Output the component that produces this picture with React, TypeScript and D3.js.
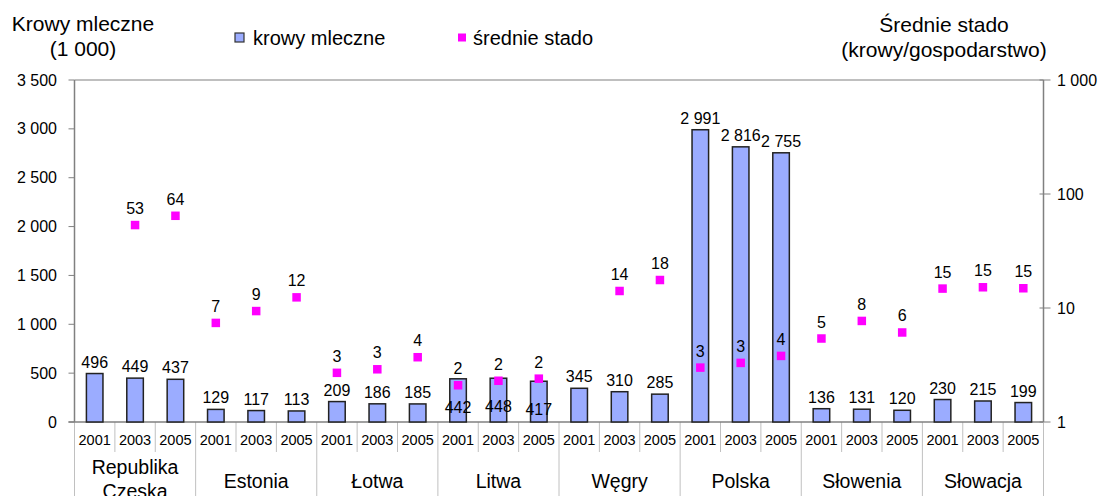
import React from "react";
import * as d3 from "d3";

const countries = ["Republika|Czeska", "Estonia", "Łotwa", "Litwa", "Węgry", "Polska", "Słowenia", "Słowacja"];
const years = ["2001", "2003", "2005"];
const cows = [496, 449, 437, 129, 117, 113, 209, 186, 185, 442, 448, 417, 345, 310, 285, 2991, 2816, 2755, 136, 131, 120, 230, 215, 199];
const herd: (number | null)[] = [null, 53.4, 64.4, 7.4, 9.4, 12.4, 2.7, 2.9, 3.7, 2.1, 2.3, 2.4, null, 14.1, 17.6, 3.0, 3.3, 3.8, 5.4, 7.7, 6.1, 14.8, 15.2, 14.9];
const leftTicks = [0, 500, 1000, 1500, 2000, 2500, 3000, 3500];
const rightTicks = [1, 10, 100, 1000];
const insideLabelCountries = ["Litwa"];

const W = 1101;
const H = 496;
const L = 74.5;
const R = 1043.5;
const T = 80;
const B = 422;
const FONT = "'Liberation Sans', Arial, Helvetica, sans-serif";
const BAR_FILL = "#9bacff";
const MAG = "#ff00ff";
const AXIS = "#808080";
const SEP = "#c0c0c0";

const fmt = d3.formatLocale({ decimal: ",", thousands: " ", grouping: [3], currency: ["", ""] }).format(",d");

export default function App() {
  const cats = d3.range(cows.length);
  const x = d3.scaleBand<number>().domain(cats).range([L, R]).padding(0);
  const yL = d3.scaleLinear().domain([0, 3500]).range([B, T]);
  const yR = d3.scaleLog().domain([1, 1000]).range([B, T]);
  const step = x.step();
  const barW = step * 0.41;
  const mk = 8.5;

  return (
    <svg width={W} height={H} style={{ position: "absolute", left: 0, top: 0, background: "#fff" }} fontFamily={FONT}>
      {/* titles */}
      <text x={83} y={31} fontSize={21} textAnchor="middle">Krowy mleczne</text>
      <text x={83} y={56} fontSize={21} textAnchor="middle">(1 000)</text>
      <text x={944} y={32} fontSize={21} textAnchor="middle">Średnie stado</text>
      <text x={944} y={57} fontSize={21} textAnchor="middle">(krowy/gospodarstwo)</text>

      {/* legend */}
      <rect x={235} y={33} width={9} height={9} fill={BAR_FILL} stroke="#333" strokeWidth={1.2} />
      <text x={253} y={45} fontSize={20}>krowy mleczne</text>
      <rect x={458} y={33.5} width={8} height={8} fill={MAG} />
      <text x={473} y={45} fontSize={20}>średnie stado</text>

      {/* frame */}
      <line x1={L} x2={R} y1={T} y2={T} stroke={AXIS} strokeWidth={1.2} />
      <line x1={L} x2={L} y1={T} y2={B} stroke={AXIS} strokeWidth={1.5} />
      <line x1={R} x2={R} y1={T} y2={B} stroke={AXIS} strokeWidth={1.5} />

      {/* left ticks */}
      {leftTicks.map((t) => (
        <g key={"l" + t}>
          <line x1={L - 6} x2={L} y1={yL(t)} y2={yL(t)} stroke={AXIS} strokeWidth={1} />
          <text x={57} y={yL(t)} dy="0.35em" fontSize={16} textAnchor="end">{fmt(t)}</text>
        </g>
      ))}
      {/* right ticks */}
      {rightTicks.map((t) => (
        <g key={"r" + t}>
          <line x1={R - 4} x2={R + 7} y1={yR(t)} y2={yR(t)} stroke={AXIS} strokeWidth={1} />
          <text x={1057} y={yR(t)} dy="0.35em" fontSize={16} textAnchor="start">{fmt(t)}</text>
        </g>
      ))}

      {/* category separators */}
      {d3.range(cows.length + 1).map((i) => {
        const xx = L + i * step;
        const group = i % 3 === 0;
        return <line key={"s" + i} x1={xx} x2={xx} y1={B} y2={group ? H : 452} stroke={SEP} strokeWidth={1} />;
      })}
      {/* x axis line */}
      <line x1={L - 6} x2={R} y1={B} y2={B} stroke={AXIS} strokeWidth={1.5} />

      {/* year labels */}
      {cats.map((i) => (
        <text key={"y" + i} x={(x(i) as number) + step / 2} y={445} fontSize={14.5} textAnchor="middle">{years[i % 3]}</text>
      ))}
      {/* country labels */}
      {countries.map((c, gi) => {
        const cx = L + (gi * 3 + 1.5) * step;
        const lines = c.split("|");
        if (lines.length === 1) {
          return <text key={"c" + gi} x={cx} y={488} fontSize={19.5} textAnchor="middle">{c}</text>;
        }
        return (
          <g key={"c" + gi}>
            <text x={cx} y={474} fontSize={19.5} textAnchor="middle">{lines[0]}</text>
            <text x={cx} y={498} fontSize={19.5} textAnchor="middle">{lines[1]}</text>
          </g>
        );
      })}

      {/* bars */}
      {cows.map((v, i) => {
        const cx = (x(i) as number) + step / 2;
        return <rect key={"b" + i} x={cx - barW / 2} y={yL(v)} width={barW} height={B - yL(v)} fill={BAR_FILL} stroke="#222" strokeWidth={1.5} />;
      })}

      {/* markers */}
      {herd.map((v, i) => {
        if (v == null) return null;
        const cx = (x(i) as number) + step / 2;
        return <rect key={"m" + i} x={cx - mk / 2} y={yR(v) - mk / 2} width={mk} height={mk} fill={MAG} />;
      })}

      {/* bar labels */}
      {cows.map((v, i) => {
        const cx = (x(i) as number) + step / 2;
        const inside = insideLabelCountries.includes(countries[Math.floor(i / 3)]);
        const yy = inside ? yL(v) + 34 : yL(v) - 6;
        return <text key={"bl" + i} x={cx} y={yy} fontSize={16} textAnchor="middle">{fmt(v)}</text>;
      })}
      {/* marker labels */}
      {herd.map((v, i) => {
        if (v == null) return null;
        const cx = (x(i) as number) + step / 2;
        return <text key={"ml" + i} x={cx} y={yR(v) - 11} fontSize={16} textAnchor="middle">{fmt(Math.round(v))}</text>;
      })}
    </svg>
  );
}
